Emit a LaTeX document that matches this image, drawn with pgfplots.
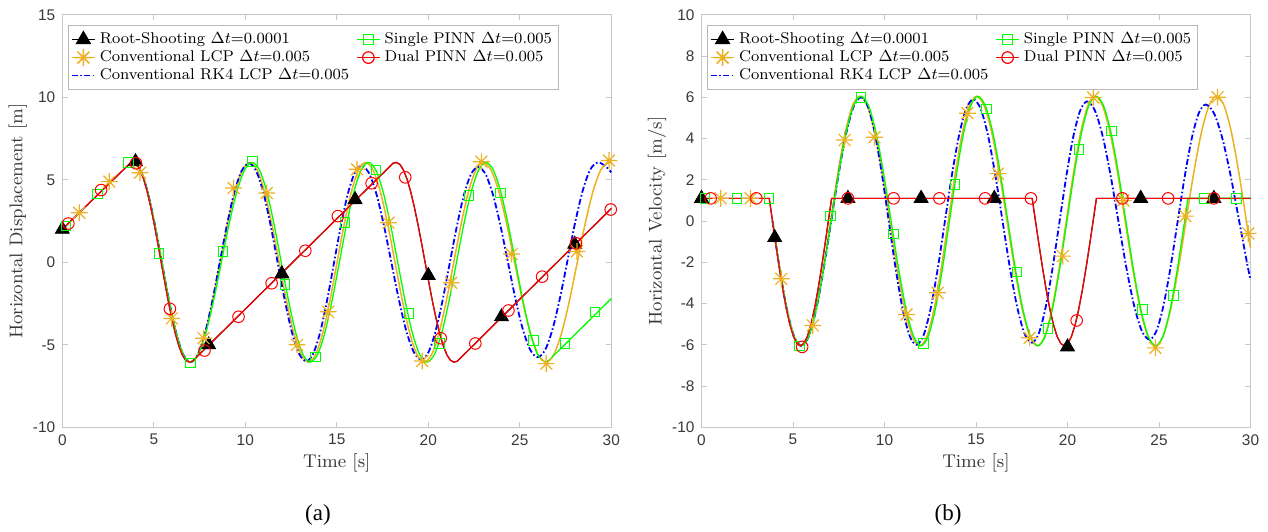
\documentclass[border=0pt]{standalone}
\usepackage{fontspec}
\usepackage{pgfplots}
\pgfplotsset{compat=1.18}
\newfontfamily\tickfont{Liberation Sans}
\newfontfamily\capfont{Liberation Serif}
\definecolor{lcp}{rgb}{0.93,0.69,0.13}
\definecolor{axgray}{gray}{0.78}
\definecolor{leggray}{gray}{0.72}
\definecolor{txt}{gray}{0.22}
\pgfdeclareplotmark{ast8}{%
  \pgfpathmoveto{\pgfqpoint{-\pgfplotmarksize}{0pt}}\pgfpathlineto{\pgfqpoint{\pgfplotmarksize}{0pt}}%
  \pgfpathmoveto{\pgfqpoint{0pt}{-\pgfplotmarksize}}\pgfpathlineto{\pgfqpoint{0pt}{\pgfplotmarksize}}%
  \pgfpathmoveto{\pgfqpoint{-0.7071\pgfplotmarksize}{-0.7071\pgfplotmarksize}}\pgfpathlineto{\pgfqpoint{0.7071\pgfplotmarksize}{0.7071\pgfplotmarksize}}%
  \pgfpathmoveto{\pgfqpoint{-0.7071\pgfplotmarksize}{0.7071\pgfplotmarksize}}\pgfpathlineto{\pgfqpoint{0.7071\pgfplotmarksize}{-0.7071\pgfplotmarksize}}%
  \pgfusepathqstroke}
\pgfplotsset{
  panel/.style={
    scale only axis, width=274.5pt, height=206.25pt,
    xmin=0, xmax=30, xtick={0,5,...,30},
    axis line style={draw=axgray, line width=0.5pt},
    every tick/.style={draw=axgray, line width=0.5pt},
    major tick length=2.6pt, tick align=inside,
    ticklabel style={font=\tickfont\fontsize{7.7}{9}\selectfont, text=txt},
    /pgf/number format/assume math mode=true,
    label style={font=\fontsize{9.2}{11}\selectfont, text=txt},
    xlabel={Time [s]},
    xlabel style={at={(axis description cs:0.5,-0.0873)}, anchor=center},
    ylabel style={at={(axis description cs:-0.081,0.5)}, anchor=center},
    clip=false,
    legend columns=2, legend cell align=left,
    legend style={at={(0.0104,0.975)}, anchor=north west, draw=leggray, line width=0.5pt,
      fill=white, font=\fontsize{7.8}{9.2}\selectfont, inner xsep=1.2pt, inner ysep=1.5pt,
      row sep=-2pt, /tikz/every even column/.append style={column sep=1.5pt}},
    legend image code/.code={\draw[mark repeat=2,mark phase=2] plot coordinates {(0pt,0pt) (5.8pt,0pt) (11.6pt,0pt)};},
  },
  rootl/.style={black, line width=0.6pt},
  lcpl/.style={lcp, line width=0.75pt},
  rkl/.style={blue, line width=0.9pt, dash pattern=on 3pt off 1.2pt on 0.8pt off 1.2pt},
  sgl/.style={green, line width=0.65pt},
  dul/.style={red, line width=0.6pt},
  rootm/.style={only marks, black, mark=triangle*, mark size=4pt, mark options={solid, fill=black}},
  lcpm/.style={only marks, lcp, mark=ast8, mark size=4.2pt, mark options={solid, line width=0.6pt}},
  sgm/.style={only marks, green, mark=square, mark size=2.4pt, mark options={solid, line width=0.5pt}},
  dum/.style={only marks, red, mark=o, mark size=2.9pt, mark options={solid, line width=0.5pt}},
}
\begin{document}
\begin{tikzpicture}
\path[use as bounding box] (0pt,0pt) rectangle (634pt,265.5pt);
% ---------------- panel (a) ----------------
\begin{axis}[panel, at={(31.15pt,51.85pt)}, anchor=south west,
  ymin=-10, ymax=15, ytick={-10,-5,...,15},
  ylabel={Horizontal Displacement [m]}]
\addlegendimage{black, line width=0.6pt, mark=triangle*, mark size=4pt, mark options={fill=black}}
\addlegendentry{Root-Shooting $\Delta t$=0.0001}
\addlegendimage{green, line width=0.65pt, mark=square, mark size=2.4pt}
\addlegendentry{Single PINN $\Delta t$=0.005}
\addlegendimage{lcp, line width=0.75pt, mark=ast8, mark size=4.2pt}
\addlegendentry{Conventional LCP $\Delta t$=0.005}
\addlegendimage{red, line width=0.6pt, mark=o, mark size=2.9pt}
\addlegendentry{Dual PINN $\Delta t$=0.005}
\addlegendimage{blue, line width=0.9pt, dash pattern=on 3pt off 1.2pt on 0.8pt off 1.2pt}
\addlegendentry{Conventional RK4 LCP $\Delta t$=0.005}
% Root-Shooting
\addplot[rootl, forget plot] coordinates {(0,2.0) (3.70,6.0) (3.880,6.05) (4.071,5.934) (4.261,5.590) (4.452,5.031) (4.643,4.278) (4.833,3.361) (5.024,2.315) (5.214,1.180) (5.405,0) (5.596,-1.180) (5.786,-2.315) (5.977,-3.361) (6.168,-4.278) (6.358,-5.031) (6.549,-5.590) (6.739,-5.934) (6.930,-6.05) (7.11,-6.0) (18.07,6.0) (18.250,6.05) (18.447,5.934) (18.644,5.590) (18.841,5.031) (19.038,4.278) (19.234,3.361) (19.431,2.315) (19.628,1.180) (19.825,0) (20.022,-1.180) (20.219,-2.315) (20.416,-3.361) (20.613,-4.278) (20.809,-5.031) (21.006,-5.590) (21.203,-5.934) (21.400,-6.05) (21.58,-6.0) (30,3.26)};
% Conventional LCP
\addplot[lcpl, smooth, forget plot] coordinates {(3.88,6.05) (4.27,5.59) (4.66,4.278) (5.05,2.315) (5.44,0) (5.83,-2.315) (6.22,-4.278) (6.61,-5.59) (7.0,-6.05)
(7.406,-5.59) (7.813,-4.278) (8.219,-2.315) (8.625,0) (9.031,2.315) (9.438,4.278) (9.844,5.59) (10.25,6.05)
(10.65,5.59) (11.05,4.278) (11.45,2.315) (11.85,0) (12.25,-2.315) (12.65,-4.278) (13.05,-5.59) (13.45,-6.05)
(13.841,-5.59) (14.233,-4.278) (14.624,-2.315) (15.015,0) (15.406,2.315) (15.798,4.278) (16.189,5.59) (16.58,6.05)
(16.98,5.59) (17.38,4.278) (17.78,2.315) (18.18,0) (18.58,-2.315) (18.98,-4.278) (19.38,-5.59) (19.78,-6.05)
(20.183,-5.59) (20.585,-4.278) (20.988,-2.315) (21.39,0) (21.793,2.315) (22.195,4.278) (22.598,5.59) (23.0,6.05)
(23.429,5.59) (23.858,4.278) (24.286,2.315) (24.715,0) (25.144,-2.315) (25.573,-4.278) (26.001,-5.59) (26.43,-6.05)
(26.858,-5.59) (27.285,-4.278) (27.713,-2.315) (28.14,0) (28.568,2.315) (28.995,4.278) (29.423,5.59) (29.85,6.05) (30,6.0)};
% Conventional RK4 LCP
\addplot[rkl, smooth, forget plot] coordinates {(3.88,6.05) (4.27,5.59) (4.66,4.278) (5.05,2.315) (5.44,0) (5.83,-2.315) (6.22,-4.278) (6.61,-5.59) (7.0,-6.05)
(7.4,-5.591) (7.8,-4.285) (8.2,-2.331) (8.6,-0.025) (9.0,2.281) (9.4,4.235) (9.8,5.541) (10.2,6.0)
(10.591,5.543) (10.983,4.243) (11.374,2.296) (11.765,0) (12.156,-2.296) (12.548,-4.243) (12.939,-5.543) (13.33,-6.0)
(13.708,-5.549) (14.085,-4.265) (14.463,-2.342) (14.84,-0.075) (15.218,2.192) (15.595,4.115) (15.973,5.399) (16.35,5.85)
(16.759,5.403) (17.168,4.129) (17.576,2.223) (17.985,-0.025) (18.394,-2.273) (18.803,-4.179) (19.211,-5.453) (19.62,-5.9)
(20.008,-5.456) (20.395,-4.189) (20.783,-2.295) (21.17,-0.06) (21.558,2.175) (21.945,4.069) (22.333,5.336) (22.72,5.78)
(23.128,5.341) (23.535,4.091) (23.943,2.221) (24.35,0.015) (24.758,-2.191) (25.165,-4.061) (25.573,-5.311) (25.98,-5.75)
(26.389,-5.301) (26.798,-4.022) (27.206,-2.108) (27.615,0.15) (28.024,2.408) (28.433,4.322) (28.841,5.601) (29.25,6.05) (29.65,5.85) (30,5.45)};
% Single PINN
\addplot[sgl, smooth, forget plot] coordinates {(3.88,6.05) (4.27,5.59) (4.66,4.278) (5.05,2.315) (5.44,0) (5.83,-2.315) (6.22,-4.278) (6.61,-5.59) (7.0,-6.05)
(7.423,-5.59) (7.845,-4.278) (8.268,-2.315) (8.69,0) (9.113,2.315) (9.535,4.278) (9.958,5.59) (10.38,6.05)
(10.776,5.59) (11.173,4.278) (11.569,2.315) (11.965,0) (12.361,-2.315) (12.758,-4.278) (13.154,-5.59) (13.55,-6.05)
(13.948,-5.59) (14.345,-4.278) (14.743,-2.315) (15.14,0) (15.538,2.315) (15.935,4.278) (16.333,5.59) (16.73,6.05)
(17.13,5.59) (17.53,4.278) (17.93,2.315) (18.33,0) (18.73,-2.315) (19.13,-4.278) (19.53,-5.59) (19.93,-6.05)
(20.333,-5.59) (20.735,-4.278) (21.138,-2.315) (21.54,0) (21.943,2.315) (22.345,4.278) (22.748,5.59) (23.15,6.05)
(23.554,5.59) (23.958,4.278) (24.361,2.315) (24.765,0) (25.169,-2.315) (25.573,-4.278) (25.976,-5.59) (26.38,-6.05)};
\addplot[sgl, forget plot] coordinates {(26.38,-6.05) (26.58,-5.95) (30,-2.2)};
% Dual PINN
\addplot[dul, forget plot] coordinates {(0,2.0) (3.70,6.0) (3.880,6.05) (4.071,5.934) (4.261,5.590) (4.452,5.031) (4.643,4.278) (4.833,3.361) (5.024,2.315) (5.214,1.180) (5.405,0) (5.596,-1.180) (5.786,-2.315) (5.977,-3.361) (6.168,-4.278) (6.358,-5.031) (6.549,-5.590) (6.739,-5.934) (6.930,-6.05) (7.11,-6.0) (18.07,6.0) (18.250,6.05) (18.447,5.934) (18.644,5.590) (18.841,5.031) (19.038,4.278) (19.234,3.361) (19.431,2.315) (19.628,1.180) (19.825,0) (20.022,-1.180) (20.219,-2.315) (20.416,-3.361) (20.613,-4.278) (20.809,-5.031) (21.006,-5.590) (21.203,-5.934) (21.400,-6.05) (21.58,-6.0) (30,3.26)};
% markers
\addplot[rootm, forget plot] coordinates {(0,2.0) (4,6.1) (8,-5.0) (12,-0.7) (16,3.8) (20,-0.8) (24,-3.3) (28,1.1)};
\addplot[lcpm, forget plot] coordinates {(0.93,3.0) (2.57,4.89) (4.25,5.43) (5.98,-3.4) (7.72,-4.6) (9.36,4.5) (11.17,4.2) (12.83,-5.0) (14.53,-3.0) (16.1,5.64) (17.83,2.4) (19.67,-5.98) (21.25,-1.24) (22.9,6.1) (24.55,0.5) (26.45,-6.14) (28.12,0.66) (29.87,6.17)};
\addplot[sgm, forget plot] coordinates {(0.2,2.2) (1.91,4.14) (3.61,6.04) (5.29,0.55) (7.02,-6.1) (8.79,0.66) (10.4,6.1) (12.16,-1.35) (13.82,-5.73) (15.45,2.4) (17.15,5.6) (18.94,-3.12) (20.62,-4.93) (22.22,4.05) (23.93,4.2) (25.74,-4.73) (27.46,-4.93) (29.1,-3.02)};
\addplot[dum, forget plot] coordinates {(0.33,2.35) (2.12,4.38) (4.03,6.0) (5.88,-2.82) (7.77,-5.35) (9.63,-3.3) (11.44,-1.27) (13.28,0.7) (15.06,2.8) (16.9,4.79) (18.74,5.15) (20.68,-4.6) (22.57,-4.92) (24.38,-2.92) (26.22,-0.87) (28.07,1.15) (29.97,3.2)};
\end{axis}
% ---------------- panel (b) ----------------
\begin{axis}[panel, at={(350.75pt,51.85pt)}, anchor=south west,
  ymin=-10, ymax=10, ytick={-10,-8,...,10},
  ylabel={Horizontal Velocity [m/s]}]
\addlegendimage{black, line width=0.6pt, mark=triangle*, mark size=4pt, mark options={fill=black}}
\addlegendentry{Root-Shooting $\Delta t$=0.0001}
\addlegendimage{green, line width=0.65pt, mark=square, mark size=2.4pt}
\addlegendentry{Single PINN $\Delta t$=0.005}
\addlegendimage{lcp, line width=0.75pt, mark=ast8, mark size=4.2pt}
\addlegendentry{Conventional LCP $\Delta t$=0.005}
\addlegendimage{red, line width=0.6pt, mark=o, mark size=2.9pt}
\addlegendentry{Dual PINN $\Delta t$=0.005}
\addlegendimage{blue, line width=0.9pt, dash pattern=on 3pt off 1.2pt on 0.8pt off 1.2pt}
\addlegendentry{Conventional RK4 LCP $\Delta t$=0.005}
% Root-Shooting
\addplot[rootl, forget plot] coordinates {(0,1.1) (3.70,1.1) (3.880,0) (4.071,-1.180) (4.261,-2.315) (4.452,-3.361) (4.643,-4.278) (4.833,-5.031) (5.024,-5.590) (5.214,-5.934) (5.405,-6.05) (5.596,-5.934) (5.786,-5.590) (5.977,-5.031) (6.168,-4.278) (6.358,-3.361) (6.549,-2.315) (6.739,-1.180) (6.930,0) (7.11,1.1) (18.07,1.1) (18.250,0) (18.447,-1.180) (18.644,-2.315) (18.841,-3.361) (19.038,-4.278) (19.234,-5.031) (19.431,-5.590) (19.628,-5.934) (19.825,-6.05) (20.022,-5.934) (20.219,-5.590) (20.416,-5.031) (20.613,-4.278) (20.809,-3.361) (21.006,-2.315) (21.203,-1.180) (21.400,0) (21.58,1.1) (30,1.1)};
% Conventional LCP
\addplot[lcpl, smooth, forget plot] coordinates {(3.88,0) (4.2725,-2.315) (4.665,-4.278) (5.0575,-5.59) (5.45,-6.05)
(5.85,-5.59) (6.25,-4.278) (6.65,-2.315) (7.05,0) (7.45,2.315) (7.85,4.278) (8.25,5.59) (8.65,6.05)
(9.06,5.59) (9.47,4.278) (9.88,2.315) (10.29,0) (10.70,-2.315) (11.11,-4.278) (11.52,-5.59) (11.93,-6.05)
(12.318,-5.59) (12.705,-4.278) (13.093,-2.315) (13.48,0) (13.868,2.315) (14.255,4.278) (14.643,5.59) (15.03,6.05)
(15.446,5.59) (15.863,4.278) (16.279,2.315) (16.695,0) (17.111,-2.315) (17.528,-4.278) (17.944,-5.59) (18.36,-6.05)
(18.753,-5.59) (19.145,-4.278) (19.538,-2.315) (19.93,0) (20.323,2.315) (20.715,4.278) (21.108,5.59) (21.5,6.05)
(21.913,5.59) (22.325,4.278) (22.738,2.315) (23.15,0) (23.563,-2.315) (23.975,-4.278) (24.388,-5.59) (24.8,-6.05)
(25.219,-5.59) (25.638,-4.278) (26.056,-2.315) (26.475,0) (26.894,2.315) (27.313,4.278) (27.731,5.59) (28.15,6.05)
(28.556,5.59) (28.963,4.278) (29.369,2.315) (29.775,0) (30,-1.31)};
% Conventional RK4 LCP
\addplot[rkl, smooth, forget plot] coordinates {(3.88,0) (4.2725,-2.315) (4.665,-4.278) (5.0575,-5.59) (5.45,-6.05)
(5.859,-5.591) (6.268,-4.285) (6.676,-2.331) (7.085,-0.025) (7.494,2.281) (7.903,4.235) (8.311,5.541) (8.72,6.0)
(9.098,5.543) (9.475,4.243) (9.853,2.296) (10.23,0) (10.608,-2.296) (10.985,-4.243) (11.363,-5.543) (11.74,-6.0)
(12.129,-5.547) (12.518,-4.257) (12.906,-2.327) (13.295,-0.05) (13.684,2.227) (14.073,4.157) (14.461,5.447) (14.85,5.9)
(15.25,5.451) (15.65,4.172) (16.05,2.258) (16.45,0) (16.85,-2.258) (17.25,-4.172) (17.65,-5.451) (18.05,-5.9)
(18.428,-5.455) (18.805,-4.187) (19.183,-2.289) (19.56,-0.05) (19.938,2.189) (20.315,4.087) (20.693,5.355) (21.07,5.8)
(21.496,5.361) (21.923,4.109) (22.349,2.235) (22.775,0.025) (23.201,-2.185) (23.628,-4.059) (24.054,-5.311) (24.48,-5.75)
(24.864,-5.316) (25.248,-4.080) (25.631,-2.231) (26.015,-0.05) (26.399,2.131) (26.783,3.98) (27.166,5.216) (27.55,5.65)
(28.006,5.222) (28.463,4.002) (28.919,2.178) (29.375,0.025) (29.831,-2.128) (30,-2.855)};
% Single PINN
\addplot[sgl, smooth, forget plot] coordinates {(3.88,0) (4.2725,-2.315) (4.665,-4.278) (5.0575,-5.59) (5.45,-6.05)
(5.859,-5.59) (6.268,-4.278) (6.676,-2.315) (7.085,0) (7.494,2.315) (7.903,4.278) (8.311,5.59) (8.72,6.05)
(9.13,5.59) (9.54,4.278) (9.95,2.315) (10.36,0) (10.77,-2.315) (11.18,-4.278) (11.59,-5.59) (12.0,-6.05)
(12.388,-5.59) (12.775,-4.278) (13.163,-2.315) (13.55,0) (13.938,2.315) (14.325,4.278) (14.713,5.59) (15.1,6.05)
(15.51,5.59) (15.92,4.278) (16.33,2.315) (16.74,0) (17.15,-2.315) (17.56,-4.278) (17.97,-5.59) (18.38,-6.05)
(18.778,-5.59) (19.175,-4.278) (19.573,-2.315) (19.97,0) (20.368,2.315) (20.765,4.278) (21.163,5.59) (21.56,6.05)
(21.968,5.59) (22.375,4.278) (22.783,2.315) (23.19,0) (23.598,-2.315) (24.005,-4.278) (24.413,-5.59) (24.82,-6.05)
(25.215,-5.59) (25.61,-4.278) (26.005,-2.315) (26.4,0)};
\addplot[sgl, forget plot] coordinates {(26.4,0) (26.58,1.1) (30,1.1)};
% Dual PINN
\addplot[dul, forget plot] coordinates {(0,1.1) (3.70,1.1) (3.880,0) (4.071,-1.180) (4.261,-2.315) (4.452,-3.361) (4.643,-4.278) (4.833,-5.031) (5.024,-5.590) (5.214,-5.934) (5.405,-6.05) (5.596,-5.934) (5.786,-5.590) (5.977,-5.031) (6.168,-4.278) (6.358,-3.361) (6.549,-2.315) (6.739,-1.180) (6.930,0) (7.11,1.1) (18.07,1.1) (18.250,0) (18.447,-1.180) (18.644,-2.315) (18.841,-3.361) (19.038,-4.278) (19.234,-5.031) (19.431,-5.590) (19.628,-5.934) (19.825,-6.05) (20.022,-5.934) (20.219,-5.590) (20.416,-5.031) (20.613,-4.278) (20.809,-3.361) (21.006,-2.315) (21.203,-1.180) (21.400,0) (21.58,1.1) (30,1.1)};
% markers
\addplot[rootm, forget plot] coordinates {(0,1.1) (4,-0.8) (8,1.1) (12,1.1) (16,1.1) (20,-6.1) (24,1.1) (28,1.1)};
\addplot[lcpm, forget plot] coordinates {(1.05,1.1) (2.68,1.1) (4.36,-2.8) (6.08,-5.06) (7.82,3.93) (9.45,4.06) (11.2,-4.53) (12.9,-3.48) (14.53,5.23) (16.2,2.3) (17.93,-5.66) (19.74,-1.7) (21.41,5.99) (23.05,1.0) (24.8,-6.15) (26.44,0.24) (28.2,6.0) (29.88,-0.6)};
\addplot[sgm, forget plot] coordinates {(0.2,1.1) (1.94,1.1) (3.69,1.1) (5.35,-6.05) (7.04,0.24) (8.72,6.0) (10.5,-0.63) (12.14,-5.95) (13.85,1.78) (15.58,5.44) (17.24,-2.47) (18.94,-5.2) (20.63,3.48) (22.39,4.37) (24.1,-4.29) (25.78,-3.61) (27.49,1.1) (29.23,1.1)};
\addplot[dum, forget plot] coordinates {(0.5,1.1) (3.0,1.1) (5.5,-6.1) (8.0,1.1) (10.5,1.1) (13.0,1.1) (15.5,1.1) (18.0,1.1) (20.5,-4.82) (23.0,1.1) (25.5,1.1) (28.0,1.1)};
\end{axis}
\node[font=\capfont\fontsize{11.5}{13}\selectfont] at (159pt,8pt) {(a)};
\node[font=\capfont\fontsize{11.5}{13}\selectfont] at (474pt,8pt) {(b)};
\end{tikzpicture}
\end{document}
